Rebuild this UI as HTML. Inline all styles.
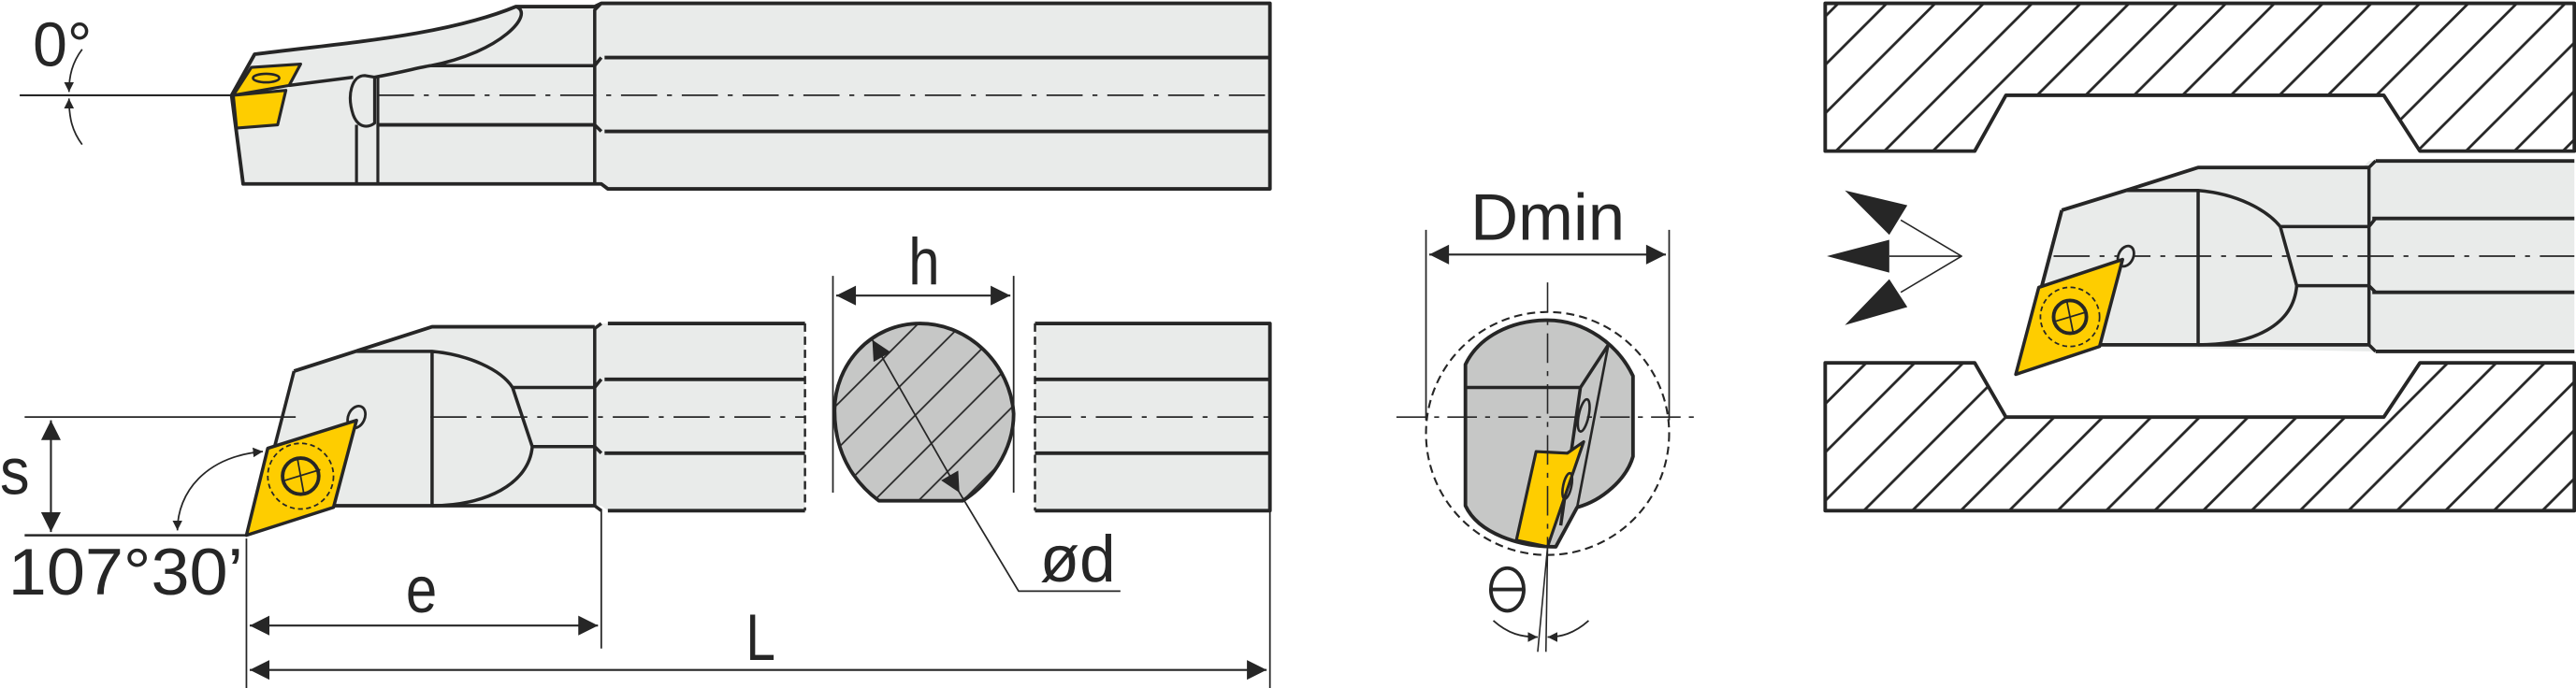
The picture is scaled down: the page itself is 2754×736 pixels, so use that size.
<!DOCTYPE html>
<html><head><meta charset="utf-8"><style>html,body{margin:0;padding:0;background:#fff}svg{display:block}</style></head>
<body>
<svg width="2754" height="736" viewBox="0 0 1568 419" xmlns="http://www.w3.org/2000/svg" font-family="Liberation Sans, sans-serif" fill="none" stroke="#262626" stroke-linejoin="round">
<defs>
<pattern id="hat" patternUnits="userSpaceOnUse" width="29.5" height="29.5">
<path d="M-2,31.5 L31.5,-2 M-2,2 L2,-2 M27.5,31.5 L31.5,27.5" stroke="#262626" stroke-width="1.6"/>
</pattern>
<pattern id="hat2" patternUnits="userSpaceOnUse" width="27" height="27">
<path d="M-2,29 L29,-2 M-2,2 L2,-2 M25,29 L29,25" stroke="#262626" stroke-width="1"/>
</pattern>
<marker id="ar" viewBox="0 0 10 10" refX="10" refY="5" markerWidth="6" markerHeight="6" orient="auto-start-reverse" markerUnits="userSpaceOnUse"><path d="M0,0 L10,5 L0,10 Z" fill="#262626" stroke="none"/></marker>
<marker id="AR" viewBox="0 0 10 10" refX="10" refY="5" markerWidth="14" markerHeight="12" orient="auto-start-reverse" markerUnits="userSpaceOnUse"><path d="M0,0 L10,5 L0,10 Z" fill="#262626" stroke="none"/></marker>
</defs>

<!-- ===== TOP TOOL ===== -->
<path d="M366,2 L773,2 L773,115 L370,115 L366,112 L148,112 L141,58 L155,33 C210,26 270,22 314,4 L362,4 Z" fill="#e9ebea" stroke-width="2.2"/>
<path d="M366,2 L362,6 L362,112" stroke-width="2"/>
<path d="M368,35 L773,35 M368,80 L773,80" stroke-width="2.2"/>
<path d="M362,40 L366,35 M362,76 L366,80" stroke-width="2"/>
<path d="M314,4 C326,8 305,32 262,40 L362,40 M228,47 C245,44 255,41 262,40" stroke-width="2"/>
<path d="M230,76 L362,76" stroke-width="2.2"/>
<path d="M176,52 L215,47" stroke-width="2"/>
<path d="M222,46 C214,46 211,58 215,70 C218,78 224,78 228,75 L228,47 Z" fill="#e9ebea" stroke-width="1.8"/>
<path d="M217,76 L217,112 M230,47 L230,112" stroke-width="1.8"/>
<path d="M230,58 L773,58" stroke-width="1" stroke-dasharray="22,6,3,6"/>
<path d="M12,58 L141,58" stroke-width="1.2"/>
<path d="M153,41 L183,39 L176,52 L142,58 Z" fill="#fecd00" stroke-width="1.8"/>
<path d="M142,58 L174,55 L169,76 L144,78 Z" fill="#fecd00" stroke-width="1.8"/>
<ellipse cx="162" cy="47.5" rx="8" ry="2.6" stroke-width="1.5" fill="#fecd00"/>
<path d="M50,30 C44,38 42,46 42,56" stroke-width="1" marker-end="url(#ar)"/>
<path d="M50,88 C44,80 42,72 42,60" stroke-width="1" marker-end="url(#ar)"/>
<text x="20" y="40" font-size="38" fill="#262626" stroke="none" textLength="36" lengthAdjust="spacingAndGlyphs">0°</text>

<!-- ===== BOTTOM TOOL ===== -->
<path d="M366,197 L490,197 L490,311 L370,311 L366,308 L200,308 L150,326 L179,226 L263,199 L362,199 Z" fill="#e9ebea" stroke="none"/>
<path d="M370,197 L490,197 M370,311 L490,311 M368,231 L490,231 M368,276 L490,276" stroke-width="2.2"/>
<path d="M630,197 L773,197 L773,311 L630,311 Z" fill="#e9ebea" stroke="none"/>
<path d="M630,197 L773,197 L773,311 L630,311 M630,231 L773,231 M630,276 L773,276" stroke-width="2.2"/>
<path d="M490,197 L490,311 M630,197 L630,311" stroke-width="1.4" stroke-dasharray="5,3"/>
<path d="M366,197 L362,200 L362,308 L366,311 M362,236 L366,231 M362,272 L366,276" stroke-width="2"/>
<path d="M179,226 L263,199 L362,199 M200,308 L362,308" stroke-width="2.2"/>
<path d="M179,226 L160,300" stroke-width="2"/>
<path d="M217,214 L263,214 C285,216 305,225 312,236 L362,236 M312,236 L324,272 L362,272 M324,272 C322,295 295,308 263,308 M263,214 L263,308" stroke-width="2"/>
<path d="M262,254 L490,254 M630,254 L773,254" stroke-width="1" stroke-dasharray="22,6,3,6"/>
<path d="M15,254 L180,254" stroke-width="1"/>
<path d="M15,326 L150,326" stroke-width="1.4"/>
<ellipse cx="217" cy="254" rx="5" ry="7" transform="rotate(25 217 254)" fill="#e9ebea" stroke-width="1.6"/>
<path d="M150,326 L163,273 L217,256 L203,309 Z" fill="#fecd00" stroke-width="2"/>
<circle cx="183" cy="290" r="20" stroke-width="1" stroke-dasharray="3,2"/>
<circle cx="183" cy="290" r="11" stroke-width="2.2"/>
<path d="M172,293 L195,286 M181,279 L185,301" stroke-width="1"/>
<path d="M31,256 L31,324" stroke-width="1.2" marker-start="url(#AR)" marker-end="url(#AR)"/>
<path d="M108,323 C108,300 125,278 160,275" stroke-width="1" marker-start="url(#ar)" marker-end="url(#ar)"/>
<text x="0" y="301" font-size="40" fill="#262626" stroke="none" textLength="18" lengthAdjust="spacingAndGlyphs">s</text>
<text x="5" y="362" font-size="40" fill="#262626" stroke="none" textLength="143" lengthAdjust="spacingAndGlyphs">107°30’</text>
<path d="M150,328 L150,419 M366,310 L366,395 M773,312 L773,419" stroke-width="1"/>
<path d="M152,381 L364,381" stroke-width="1.2" marker-start="url(#AR)" marker-end="url(#AR)"/>
<path d="M152,408 L771,408" stroke-width="1.2" marker-start="url(#AR)" marker-end="url(#AR)"/>
<text x="247" y="373" font-size="40" fill="#262626" stroke="none" textLength="19" lengthAdjust="spacingAndGlyphs">e</text>
<text x="454" y="402" font-size="40" fill="#262626" stroke="none" textLength="18" lengthAdjust="spacingAndGlyphs">L</text>

<!-- cross section -->
<path id="cs" d="M535,305 C515,290 508,270 508,250 C508,222 530,197 560,197 C590,197 615,222 617,252 C617,275 602,295 586,305 Z" fill="#c6c7c6"/>
<path d="M535,305 C515,290 508,270 508,250 C508,222 530,197 560,197 C590,197 615,222 617,252 C617,275 602,295 586,305 Z" fill="url(#hat2)"/>
<path d="M535,305 C515,290 508,270 508,250 C508,222 530,197 560,197 C590,197 615,222 617,252 C617,275 602,295 586,305 Z" stroke-width="2.2"/>
<path d="M507,168 L507,300 M617,168 L617,300" stroke-width="1"/>
<path d="M509,180 L615,180" stroke-width="1.2" marker-start="url(#AR)" marker-end="url(#AR)"/>
<text x="553" y="173" font-size="40" fill="#262626" stroke="none" textLength="19" lengthAdjust="spacingAndGlyphs">h</text>
<path d="M531,207 L584,300" stroke-width="1" marker-start="url(#AR)" marker-end="url(#AR)"/>
<path d="M584,300 L620,360 L682,360" stroke-width="1"/>
<text x="633" y="354" font-size="40" fill="#262626" stroke="none" textLength="46" lengthAdjust="spacingAndGlyphs">ød</text>

<!-- ===== DMIN VIEW ===== -->
<circle cx="942" cy="264" r="74" stroke-width="1.2" stroke-dasharray="5,3"/>
<path d="M892,222 C900,205 920,195 942,195 C965,195 985,210 994,229 L994,278 C990,292 975,305 960,309 L947,333 C925,333 900,325 892,308 Z" fill="#c6c7c6" stroke-width="2.2"/>
<path d="M892,236 L962,236 M979,210 L962,236 L950,320" stroke-width="2"/>
<path d="M979,210 L960,309" stroke-width="1.5"/>
<ellipse cx="964" cy="253" rx="3" ry="10" transform="rotate(12 964 253)" stroke-width="1.5"/>
<path d="M935,275 L954,276 L964,269 L942,333 L923,329 Z" fill="#fecd00" stroke-width="1.8"/>
<ellipse cx="954" cy="296" rx="2.5" ry="8" transform="rotate(12 954 296)" stroke-width="1.5"/>
<path d="M850,254 L1034,254 M942,172 L942,332" stroke-width="0.9" stroke-dasharray="18,5,3,5"/>
<path d="M868,140 L868,256 M1016,140 L1016,256" stroke-width="1"/>
<path d="M870,155 L1014,155" stroke-width="1.2" marker-start="url(#AR)" marker-end="url(#AR)"/>
<text x="895" y="146" font-size="40" fill="#262626" stroke="none" textLength="94" lengthAdjust="spacingAndGlyphs">Dmin</text>
<path d="M942,333 L936,397 M942,333 L941,397" stroke-width="0.9"/>
<path d="M909,378 C918,386 926,388 936,388" stroke-width="1" marker-end="url(#ar)"/>
<path d="M967,378 C958,386 950,388 942,388" stroke-width="1" marker-end="url(#ar)"/>
<ellipse cx="917.5" cy="359" rx="10" ry="13" stroke-width="2.2"/>
<path d="M907.5,359 L927.5,359" stroke-width="2.2"/>

<!-- ===== RIGHT: WORKPIECE ===== -->
<path d="M1111,2 L1567,2 L1567,92 L1473,92 L1451,58 L1221,58 L1202,92 L1111,92 Z" fill="url(#hat)" stroke-width="2.2"/>
<path d="M1111,221 L1202,221 L1221,254 L1451,254 L1473,221 L1567,221 L1567,311 L1111,311 Z" fill="url(#hat)" stroke-width="2.2"/>

<path d="M1442,98 L1567,98 L1567,214 L1442,214 L1277,211 L1227,228 L1255,128 L1294,116 L1338,102 L1438,102 Z" fill="#e9ebea" stroke="none"/>
<path d="M1446,98 L1567,98 M1446,214 L1567,214 M1444,133 L1567,133 M1444,178 L1567,178" stroke-width="2.2"/>
<path d="M1446,98 L1442,102 L1442,210 L1446,214 M1442,138 L1446,133 M1442,174 L1446,178" stroke-width="2"/>
<path d="M1255,128 L1294,116 L1338,102 L1442,102 M1277,210 L1442,210 M1255,128 L1240,185" stroke-width="2.2"/>
<path d="M1294,116 L1338,116 C1362,118 1380,128 1388,138 L1442,138 M1388,138 L1398,174 L1442,174 M1398,174 C1396,198 1372,210 1338,210 M1338,116 L1338,210" stroke-width="2"/>
<path d="M1250,156 L1567,156" stroke-width="1" stroke-dasharray="22,6,3,6"/>
<ellipse cx="1294" cy="156" rx="4.5" ry="6.5" transform="rotate(25 1294 156)" fill="#e9ebea" stroke-width="1.6"/>
<path d="M1227,228 L1241,175 L1292,158 L1278,211 Z" fill="#fecd00" stroke-width="2"/>
<circle cx="1260" cy="193" r="18" stroke-width="1" stroke-dasharray="3,2"/>
<circle cx="1260" cy="193" r="10" stroke-width="2.2"/>
<path d="M1250,196 L1270,190 M1258,183 L1262,203" stroke-width="1"/>
<path d="M1123,116 L1161,125 L1150,143 Z M1112,156 L1150,146 L1150,166 Z M1123,198 L1161,187 L1150,170 Z" fill="#262626" stroke="none"/>
<path d="M1157,134 L1194,156 L1157,178 M1150,156 L1194,156" stroke-width="0.9"/>
</svg>
</body></html>
